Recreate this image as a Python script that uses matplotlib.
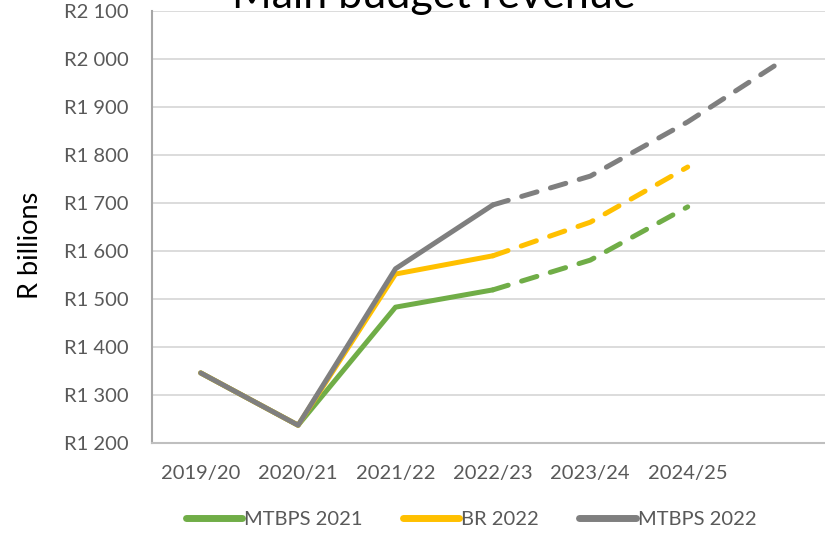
import matplotlib.pyplot as plt

years = ['2019/20', '2020/21', '2021/22', '2022/23', '2023/24', '2024/25', '']
mtbps_2021 = [1346, 1237, 1483, 1519, 1581, 1692]
br_2022 = [1346, 1237, 1552, 1590, 1660, 1775]
mtbps_2022 = [1346, 1237, 1563, 1696, 1756, 1869, 2000]
series = [('MTBPS 2021', mtbps_2021, '#70AD47'),
          ('BR 2022', br_2022, '#FFC000'),
          ('MTBPS 2022', mtbps_2022, '#7F7F7F')]
last_actual = 3  # index of 2022/23, dashed after this
y_ticks = list(range(1200, 2101, 100))

plt.rcParams['font.family'] = ['Lato', 'DejaVu Sans']

fig = plt.figure(figsize=(8.25, 5.33), dpi=100)
ax = fig.add_axes([152 / 825, 1 - 443 / 533, 1 - 152 / 825, (443 - 11) / 533])

# Step 1: draw the lines, solid for outturn, dashed for projections
for name, vals, color in series:
    x = list(range(len(vals)))
    ax.plot(x[:last_actual + 1], vals[:last_actual + 1], color=color, lw=3.6,
            solid_capstyle='round', solid_joinstyle='round', label=name, zorder=3)
    proj, = ax.plot(x[last_actual:], vals[last_actual:], color=color, lw=3.6,
                    dash_capstyle='round', zorder=3)
    proj.set_dashes((3.2, 2.8))

# Step 2: axis settings
ax.set_xlim(-0.5, 6.41)
ax.set_ylim(1200, 2100)
ax.set_xticks(range(len(years)))
ax.set_xticklabels(years)
ax.set_yticks(y_ticks)
ax.set_yticklabels(['R{} {:03d}'.format(v // 1000, v % 1000) for v in y_ticks])
ax.tick_params(axis='both', length=0, labelsize=14.5, labelcolor='#595959')
ax.tick_params(axis='y', pad=17)
ax.tick_params(axis='x', pad=16)
ax.grid(axis='y', color='#d9d9d9', lw=1.3)
ax.set_axisbelow(True)
for side in ['top', 'right']:
    ax.spines[side].set_visible(False)
ax.spines['left'].set_color('#a6a6a6')
ax.spines['left'].set_linewidth(1.5)
ax.spines['bottom'].set_color('#bfbfbf')
ax.spines['bottom'].set_linewidth(1.5)

fig.text(30 / 825, 1 - 245 / 533, 'R billions', rotation=90, ha='center',
         va='center', fontsize=19.5, color='black')
fig.text(434 / 825, 1 - 8 / 533, 'Main budget revenue', ha='center',
         va='baseline', fontsize=31, color='black')

leg = fig.legend(loc='center', bbox_to_anchor=(471 / 825, 1 - 519 / 533), ncol=3,
                 frameon=False, fontsize=14.5, labelcolor='#595959', handlelength=2.8,
                 columnspacing=2.0, handletextpad=0.1)
for h in leg.get_lines():
    h.set_linewidth(5)

fig.savefig('out.png', dpi=100)
